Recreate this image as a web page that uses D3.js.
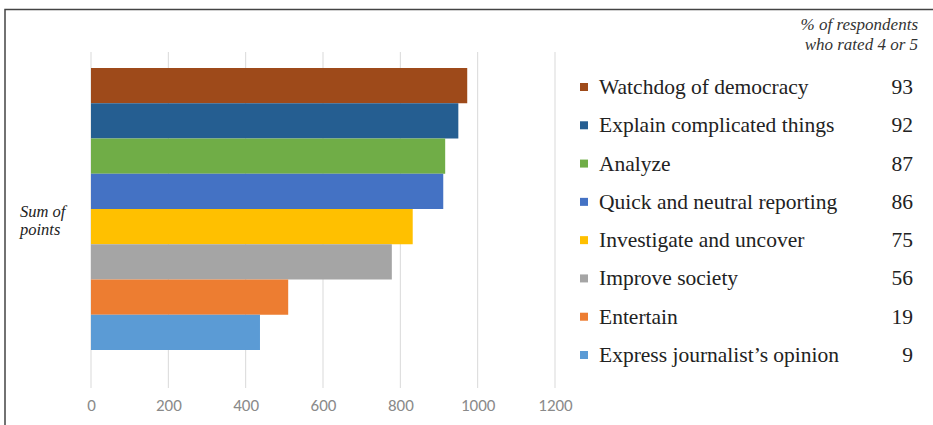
<!DOCTYPE html>
<html>
<head>
<meta charset="utf-8">
<script src="https://cdn.jsdelivr.net/npm/d3@7"></script>
<style>
  html, body { margin: 0; padding: 0; background: #fff; }
  svg { display: block; }
</style>
</head>
<body>
<div id="chart"></div>
<script>
const categories = [
  "Watchdog of democracy",
  "Explain complicated things",
  "Analyze",
  "Quick and neutral reporting",
  "Investigate and uncover",
  "Improve society",
  "Entertain",
  "Express journalist\u2019s opinion",
];
const sumOfPoints = [973, 950, 916, 911, 832, 778, 510, 437];
const percentRated = [93, 92, 87, 86, 75, 56, 19, 9];
const colors = ["#9e4a1a", "#255e91", "#70ad47", "#4472c4", "#ffc000", "#a5a5a5", "#ed7d31", "#5b9bd5"];
const xTicks = [0, 200, 400, 600, 800, 1000, 1200];

const width = 933, height = 425;
const serif = "'Liberation Serif', 'DejaVu Serif', serif";

const svg = d3.select("#chart").append("svg")
  .attr("width", width)
  .attr("height", height);

// frame (top + left edge only, like the cropped figure)
svg.append("path")
  .attr("d", `M5,${height} L5,9.5 L${width},9.5`)
  .attr("fill", "none")
  .attr("stroke", "#444")
  .attr("stroke-width", 1.5);

const x = d3.scaleLinear().domain([0, 1200]).range([91, 555]);
const y = d3.scaleBand().domain(categories).range([68, 350]).padding(0);

// gridlines
svg.append("g")
  .selectAll("line")
  .data(xTicks)
  .join("line")
  .attr("x1", (d) => x(d)).attr("x2", (d) => x(d))
  .attr("y1", 52).attr("y2", 388)
  .attr("stroke", "#d9d9d9")
  .attr("stroke-width", 1);

// tick labels
const axis = d3.axisBottom(x).tickValues(xTicks).tickFormat(d3.format("d")).tickSize(0).tickPadding(0);
const gAxis = svg.append("g").attr("transform", "translate(0,399)").call(axis);
gAxis.select(".domain").remove();
gAxis.selectAll("text")
  .attr("fill", "#8a8a8a")
  .attr("font-family", "Carlito, 'Liberation Sans', 'DejaVu Sans', sans-serif")
  .attr("font-size", 17);

// bars
svg.append("g")
  .selectAll("rect")
  .data(categories)
  .join("rect")
  .attr("x", x(0))
  .attr("y", (d) => y(d))
  .attr("width", (d, i) => x(sumOfPoints[i]) - x(0))
  .attr("height", y.bandwidth())
  .attr("fill", (d, i) => colors[i]);

// y label
svg.append("text")
  .attr("x", 20).attr("y", 217)
  .attr("font-family", serif).attr("font-style", "italic").attr("font-size", 16.5)
  .attr("fill", "#222")
  .selectAll("tspan")
  .data(["Sum of", "points"])
  .join("tspan")
  .attr("x", 20)
  .attr("dy", (d, i) => (i === 0 ? 0 : 18))
  .text((d) => d);

// legend header
svg.append("text")
  .attr("text-anchor", "end")
  .attr("font-family", serif).attr("font-style", "italic").attr("font-size", 17)
  .attr("fill", "#333")
  .selectAll("tspan")
  .data(["% of respondents", "who rated 4 or 5"])
  .join("tspan")
  .attr("x", 918)
  .attr("y", (d, i) => 30 + i * 20)
  .text((d) => d);

// legend rows
const ly = d3.scalePoint().domain(categories).range([87, 355]);
const legend = svg.append("g")
  .selectAll("g")
  .data(categories)
  .join("g")
  .attr("transform", (d) => `translate(0,${ly(d)})`);

legend.append("rect")
  .attr("x", 580).attr("y", -4)
  .attr("width", 8).attr("height", 8)
  .attr("fill", (d, i) => colors[i]);

legend.append("text")
  .attr("x", 599).attr("y", 7)
  .attr("font-family", serif).attr("font-size", 21.5)
  .attr("fill", "#222")
  .text((d) => d);

legend.append("text")
  .attr("x", 913).attr("y", 7)
  .attr("text-anchor", "end")
  .attr("font-family", serif).attr("font-size", 21.5)
  .attr("fill", "#222")
  .text((d, i) => percentRated[i]);
</script>
</body>
</html>
